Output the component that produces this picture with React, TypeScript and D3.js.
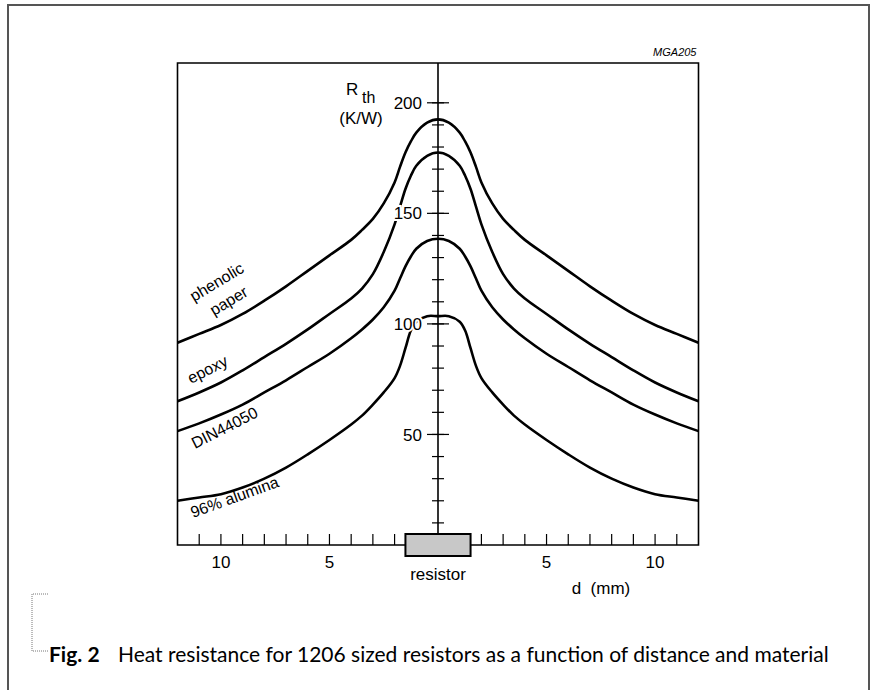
import { useMemo } from "react";
import * as d3 from "d3";

// distance from resistor centre (mm), negative = left side
const distance = [
  -12, -11, -10, -9, -8, -7, -6, -5, -4, -3.5, -3, -2.5, -2, -1.75, -1.5, -1.25, -1, -0.5, 0,
  0.5, 1, 1.25, 1.5, 1.75, 2, 2.5, 3, 3.5, 4, 5, 6, 7, 8, 9, 10, 11, 12,
];

// Rth (K/W) per substrate material
const phenolicPaper = [
  91.5, 95.5, 99.5, 104.5, 110.5, 117, 124, 131, 138, 142.5, 147.5, 154.5, 164, 171, 177.5, 182.5, 186.5, 191, 192.5,
  191, 186.5, 182.5, 177.5, 171, 164, 154.5, 147.5, 142.5, 138, 131, 124, 117, 110.5, 104.5, 99.5, 95.5, 91.5,
];
const epoxy = [
  65, 69, 73.5, 79, 85, 91, 97.5, 104.5, 111.5, 116, 122.5, 132.5, 145, 153, 161, 167, 171.5, 176, 177.5,
  176, 171.5, 167, 161, 153, 145, 132.5, 122.5, 116, 111.5, 104.5, 97.5, 91, 85, 79, 73.5, 69, 65,
];
const din44050 = [
  51.5, 55, 59, 63.5, 69, 74.5, 80.5, 86.5, 93.5, 97.5, 102, 107.5, 115, 120.5, 126, 130.5, 134, 137.5, 138.5,
  137.5, 134, 130.5, 126, 120.5, 115, 107.5, 102, 97.5, 93.5, 86.5, 80.5, 74.5, 69, 63.5, 59, 55, 51.5,
];
const alumina96 = [
  20, 21.5, 23, 26, 30, 35, 41, 47.5, 54.5, 58.5, 63.5, 69, 75.5, 81, 89, 97, 101, 103.5, 103.5,
  103.5, 101, 97, 89, 81, 75.5, 69, 63.5, 58.5, 54.5, 47.5, 41, 35, 30, 26, 23, 21.5, 20,
];

const series = [phenolicPaper, epoxy, din44050, alumina96];

const yMajor = [50, 100, 150, 200];
const yMinor = d3.range(10, 201, 10);
const xLabelTicks = [-10, -5, 5, 10];
const xMinor = [-11, -10, -9, -8, -7, -6, -5, -4, -3, -2, 2, 3, 4, 5, 6, 7, 8, 9, 10, 11];
const resistorHalfLength = 1.5;

const W = 875;
const H = 690;
const FONT = "'Liberation Sans', Arial, Helvetica, sans-serif";

export default function App() {
  const x = useMemo(() => d3.scaleLinear().domain([-12, 12]).range([177.5, 698.5]), []);
  const y = useMemo(() => d3.scaleLinear().domain([0, 218]).range([545, 63]), []);

  const line = d3
    .line<number>()
    .x((_, i) => x(distance[i]))
    .y((v) => y(v))
    .curve(d3.curveCatmullRom.alpha(0.5));

  const x0 = x(0);
  const [left, right] = x.range();
  const [bottom, top] = y.range();
  const boxTop = bottom - 11;
  const boxBottom = bottom + 11;

  return (
    <svg
      width={W}
      height={H}
      style={{ position: "absolute", left: 0, top: 0, background: "#fff" }}
      fontFamily={FONT}
    >
      <rect x={0} y={0} width={W} height={H} fill="#fff" />
      {/* outer frame */}
      <rect x={8} y={5} width={861} height={H + 10} fill="none" stroke="#555" strokeWidth={2} />

      <text x={right - 2} y={56} fontSize={11} fontStyle="italic" textAnchor="end">
        MGA205
      </text>

      <defs>
        <clipPath id="plot">
          <rect x={left} y={top} width={right - left} height={bottom - top} />
        </clipPath>
      </defs>

      {/* curves */}
      <g clipPath="url(#plot)">
        {series.map((s, i) => (
          <path key={i} d={line(s) ?? ""} fill="none" stroke="#000" strokeWidth={2.6} />
        ))}
      </g>

      {/* frame of plot */}
      <path
        d={`M${left},${bottom}V${top}H${right}V${bottom}Z`}
        fill="none"
        stroke="#000"
        strokeWidth={1.6}
      />

      {/* x ticks */}
      {xMinor.map((d) => (
        <line key={d} x1={x(d)} x2={x(d)} y1={bottom} y2={bottom - 11} stroke="#000" strokeWidth={1.2} />
      ))}
      {xLabelTicks.map((d) => (
        <text key={d} x={x(d)} y={568} fontSize={17} textAnchor="middle">
          {Math.abs(d)}
        </text>
      ))}

      {/* centre axis */}
      <line x1={x0} x2={x0} y1={top} y2={boxTop} stroke="#000" strokeWidth={1.6} />
      {yMinor.map((v) => (
        <line key={v} x1={x0 - 6} x2={x0 + 6} y1={y(v)} y2={y(v)} stroke="#000" strokeWidth={1.2} />
      ))}
      {yMajor.map((v) => (
        <line key={v} x1={x0 - 11} x2={x0 + 11} y1={y(v)} y2={y(v)} stroke="#000" strokeWidth={1.2} />
      ))}
      {yMajor.map((v) => (
        <text
          key={v}
          x={x0 - 16}
          y={y(v)}
          dy="0.36em"
          fontSize={17}
          textAnchor="end"
          stroke="#fff"
          strokeWidth={4}
          paintOrder="stroke"
        >
          {v}
        </text>
      ))}

      {/* resistor */}
      <rect
        x={x(-resistorHalfLength)}
        y={boxTop}
        width={x(resistorHalfLength) - x(-resistorHalfLength)}
        height={boxBottom - boxTop}
        fill="#c8c8c8"
        stroke="#000"
        strokeWidth={2}
      />
      <text x={x0} y={580} fontSize={17} textAnchor="middle">
        resistor
      </text>
      <text x={601} y={594} fontSize={17} textAnchor="middle" xmlSpace="preserve">
        d  (mm)
      </text>

      {/* y axis title */}
      <text x={346} y={95} fontSize={17}>
        R
      </text>
      <text x={362} y={103} fontSize={16}>
        th
      </text>
      <text x={361} y={124} fontSize={17} textAnchor="middle">
        (K/W)
      </text>

      {/* curve labels */}
      <g fontSize={16}>
        <text transform="translate(194,302) rotate(-31)">phenolic</text>
        <text transform="translate(214,316) rotate(-31)">paper</text>
        <text transform="translate(191,384) rotate(-27)">epoxy</text>
        <text transform="translate(195,449) rotate(-27)">DIN44050</text>
        <text transform="translate(193,518) rotate(-20)">96% alumina</text>
      </g>

      {/* caption */}
      <path
        d="M48,594H32V651H48"
        fill="none"
        stroke="#777"
        strokeWidth={1}
        strokeDasharray="1,1"
      />
      <text y={662} fontSize={21} fontFamily="Lato, 'Open Sans', sans-serif">
        <tspan x={49} fontWeight={700}>
          Fig. 2
        </tspan>
        <tspan x={118}>Heat resistance for 1206 sized resistors as a function of distance and material</tspan>
      </text>
    </svg>
  );
}
